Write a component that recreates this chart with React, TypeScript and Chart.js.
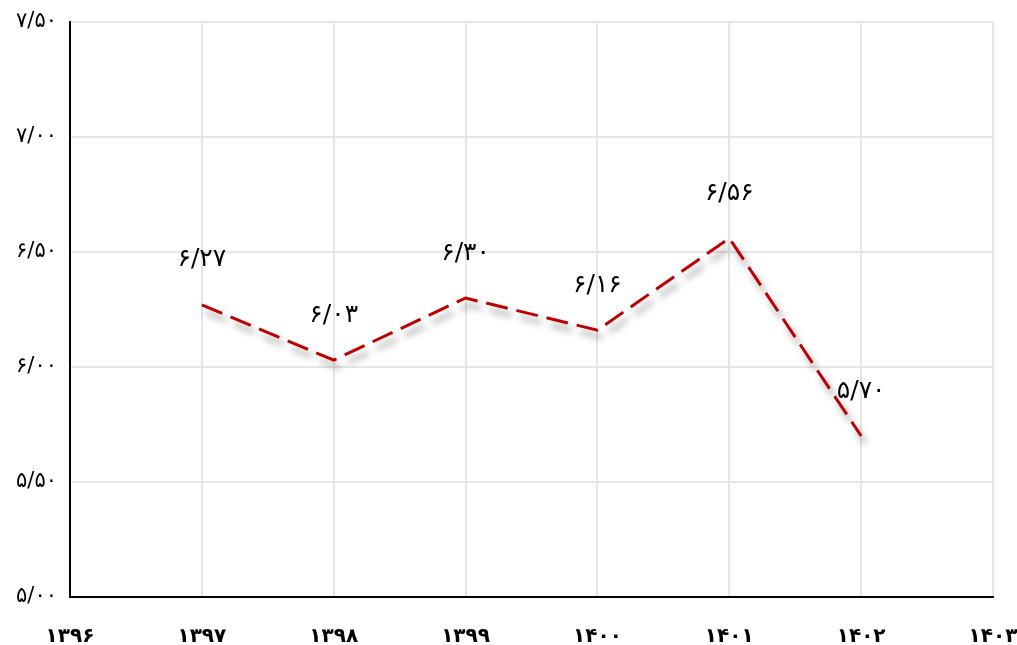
import React, { useEffect, useRef } from "react";
import { Chart, registerables } from "chart.js";

Chart.register(...registerables);

const years = [1397, 1398, 1399, 1400, 1401, 1402];
const values = [6.27, 6.03, 6.3, 6.16, 6.56, 5.7];
const yTicks = [5.0, 5.5, 6.0, 6.5, 7.0, 7.5];
const xRange = [1396, 1403];

const faDigits = ["۰", "۱", "۲", "۳", "۴", "۵", "۶", "۷", "۸", "۹"];
const toFa = (s: string) => s.replace(/[0-9]/g, (d) => faDigits[+d]);
const fmtDec = (v: number) => toFa(v.toFixed(2).replace(".", "/"));

const shadowPlugin = {
  id: "lineShadow",
  beforeDatasetsDraw(chart: any) {
    const ctx = chart.ctx;
    ctx.save();
    ctx.shadowColor = "rgba(0,0,0,0.42)";
    ctx.shadowBlur = 7;
    ctx.shadowOffsetX = 4;
    ctx.shadowOffsetY = 7;
  },
  afterDatasetsDraw(chart: any) {
    chart.ctx.restore();
  },
};

const labelPlugin = {
  id: "valueLabels",
  afterDraw(chart: any) {
    const ctx = chart.ctx;
    const meta = chart.getDatasetMeta(0);
    ctx.save();
    ctx.font = "25px 'DejaVu Sans'";
    ctx.fillStyle = "#000";
    ctx.textAlign = "center";
    ctx.textBaseline = "middle";
    meta.data.forEach((pt: any, i: number) => {
      ctx.fillText(fmtDec(values[i]), pt.x, pt.y - 45);
    });
    ctx.restore();
  },
};

export default function App() {
  const ref = useRef<HTMLCanvasElement | null>(null);
  useEffect(() => {
    if (!ref.current) return;
    const chart = new Chart(ref.current, {
      type: "line",
      data: {
        datasets: [
          {
            data: years.map((x, i) => ({ x, y: values[i] })),
            borderColor: "#c00000",
            borderWidth: 3,
            borderDash: [22, 9],
            pointRadius: 0,
            fill: false,
            tension: 0,
          },
        ],
      },
      options: {
        animation: false,
        responsive: false,
        maintainAspectRatio: false,
        layout: { padding: { top: 22, right: 24, left: 0, bottom: 0 } },
        plugins: { legend: { display: false }, tooltip: { enabled: false } },
        scales: {
          x: {
            type: "linear",
            min: xRange[0],
            max: xRange[1],
            afterBuildTicks: (s: any) => {
              const t = [];
              for (let v = xRange[0]; v <= xRange[1]; v++) t.push({ value: v });
              s.ticks = t;
            },
            afterFit: (s: any) => {
              s.height = 48;
              s.paddingLeft = 0;
              s.paddingRight = 0;
            },
            border: { color: "#000", width: 2 },
            grid: { color: "#e6e6e6", lineWidth: 2, drawTicks: false },
            ticks: {
              padding: 28,
              color: "#000",
              font: { family: "'DejaVu Sans'", size: 20, weight: "bold" },
              callback: (v: any) => toFa(String(v)),
            },
          },
          y: {
            min: 5,
            max: 7.5,
            afterBuildTicks: (s: any) => {
              s.ticks = yTicks.map((v) => ({ value: v }));
            },
            afterFit: (s: any) => {
              s.width = 70;
              s.paddingTop = 0;
              s.paddingBottom = 0;
            },
            border: { color: "#000", width: 2 },
            grid: { color: "#e6e6e6", lineWidth: 2, drawTicks: false },
            ticks: {
              padding: 13,
              color: "#000",
              font: { family: "'DejaVu Sans'", size: 21 },
              callback: (v: any) => fmtDec(Number(v)),
            },
          },
        },
      },
      plugins: [shadowPlugin, labelPlugin],
    } as any);
    return () => chart.destroy();
  }, []);
  return (
    <div style={{ position: "absolute", left: 0, top: 0, width: 1017, height: 645, background: "#fff" }}>
      <canvas ref={ref} width={1017} height={645} style={{ width: 1017, height: 645 }} />
    </div>
  );
}
